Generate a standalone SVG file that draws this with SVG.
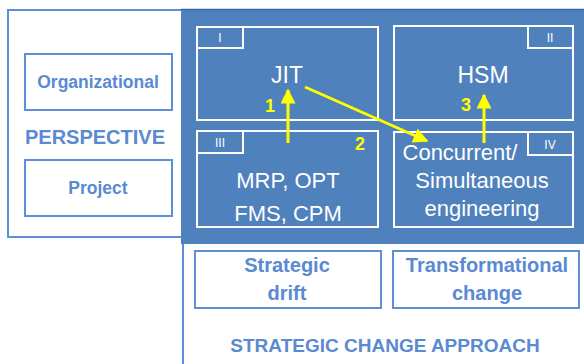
<svg xmlns="http://www.w3.org/2000/svg" width="584" height="364" viewBox="0 0 584 364">
<style>
.lb{fill:#5a8ad2;font-family:"Liberation Sans",Arial,sans-serif;font-weight:bold;text-anchor:middle}
.wt{fill:#ffffff;font-family:"Liberation Sans",Arial,sans-serif;text-anchor:middle}
.tab{fill:#ffffff;font-family:"Liberation Sans",Arial,sans-serif;font-size:12px;text-anchor:middle}
.num{fill:#ffff00;font-family:"Liberation Sans",Arial,sans-serif;font-weight:bold;font-size:18px;text-anchor:middle}
.wbox{fill:#ffffff;stroke:#5b8fd7;stroke-width:2}
.q{fill:none;stroke:#ffffff;stroke-width:2}
.arr{stroke:#ffff00;stroke-width:3;fill:none}
</style>
<defs>
<marker id="ah" markerWidth="5" markerHeight="5" refX="4.5" refY="2.5" orient="auto" markerUnits="strokeWidth">
<path d="M0,0 L5,2.5 L0,5 Z" fill="#ffff00"/>
</marker>
</defs>
<rect width="584" height="364" fill="#ffffff"/>
<g id="perspective-panel">
<rect x="8" y="10" width="174" height="227" class="wbox"/>
<text x="95" y="144" class="lb" font-size="20">PERSPECTIVE</text>
</g>
<g id="approach-frame">
<line x1="183" y1="243" x2="183" y2="364" stroke="#5b8fd7" stroke-width="2"/>
<text x="385" y="352" class="lb" font-size="19">STRATEGIC CHANGE APPROACH</text>
</g>
<g id="matrix">
<rect x="181" y="9" width="403" height="235" fill="#4f81bd"/>
<line x1="181" y1="9.5" x2="584" y2="9.5" stroke="#3b679e" stroke-width="1.5"/>
</g>
<g id="organizational">
<rect x="25" y="54" width="147" height="56" class="wbox"/>
<text x="98" y="88" class="lb" font-size="17.5">Organizational</text>
</g>
<g id="project">
<rect x="25" y="160" width="147" height="56" class="wbox"/>
<text x="98" y="194" class="lb" font-size="17.5">Project</text>
</g>
<g id="quadrant-I">
<rect x="197" y="27" width="181" height="93" class="q"/>
<path d="M197,48 H243 V27" class="q"/>
<text x="220" y="42" class="tab">I</text>
<text x="287" y="83" class="wt" font-size="23">JIT</text>
</g>
<g id="quadrant-II">
<rect x="394" y="26" width="179" height="94" class="q"/>
<path d="M528,26 V48 H573" class="q"/>
<text x="550" y="42" class="tab">II</text>
<text x="483" y="83" class="wt" font-size="23">HSM</text>
</g>
<g id="quadrant-III">
<rect x="197" y="131" width="181" height="96" class="q"/>
<path d="M197,153 H243 V131" class="q"/>
<text x="220" y="147" class="tab">III</text>
<text x="288" y="188" class="wt" font-size="22">MRP, OPT</text>
<text x="288" y="221" class="wt" font-size="22">FMS, CPM</text>
</g>
<g id="quadrant-IV">
<rect x="394" y="132" width="179" height="95" class="q"/>
<path d="M528,132 V155 H573" class="q"/>
<text x="550" y="149" class="tab">IV</text>
<text x="460" y="160" class="wt" font-size="22">Concurrent/</text>
<text x="482" y="188" class="wt" font-size="22">Simultaneous</text>
<text x="482" y="216" class="wt" font-size="22">engineering</text>
</g>
<g id="strategic-drift">
<rect x="195" y="251" width="186" height="57" class="wbox"/>
<text x="287" y="272" class="lb" font-size="20">Strategic</text>
<text x="287" y="300" class="lb" font-size="20">drift</text>
</g>
<g id="transformational-change">
<rect x="393" y="251" width="186" height="57" class="wbox"/>
<text x="487" y="272" class="lb" font-size="20">Transformational</text>
<text x="487" y="300" class="lb" font-size="20">change</text>
</g>
<g id="connectors">
<line x1="288" y1="143" x2="288" y2="90" class="arr" marker-end="url(#ah)"/>
<line x1="305" y1="87" x2="427" y2="141" class="arr" marker-end="url(#ah)"/>
<line x1="484" y1="143" x2="484" y2="95" class="arr" marker-end="url(#ah)"/>
<text x="270" y="112" class="num">1</text>
<text x="360" y="150" class="num">2</text>
<text x="466" y="111" class="num">3</text>
</g>
</svg>
